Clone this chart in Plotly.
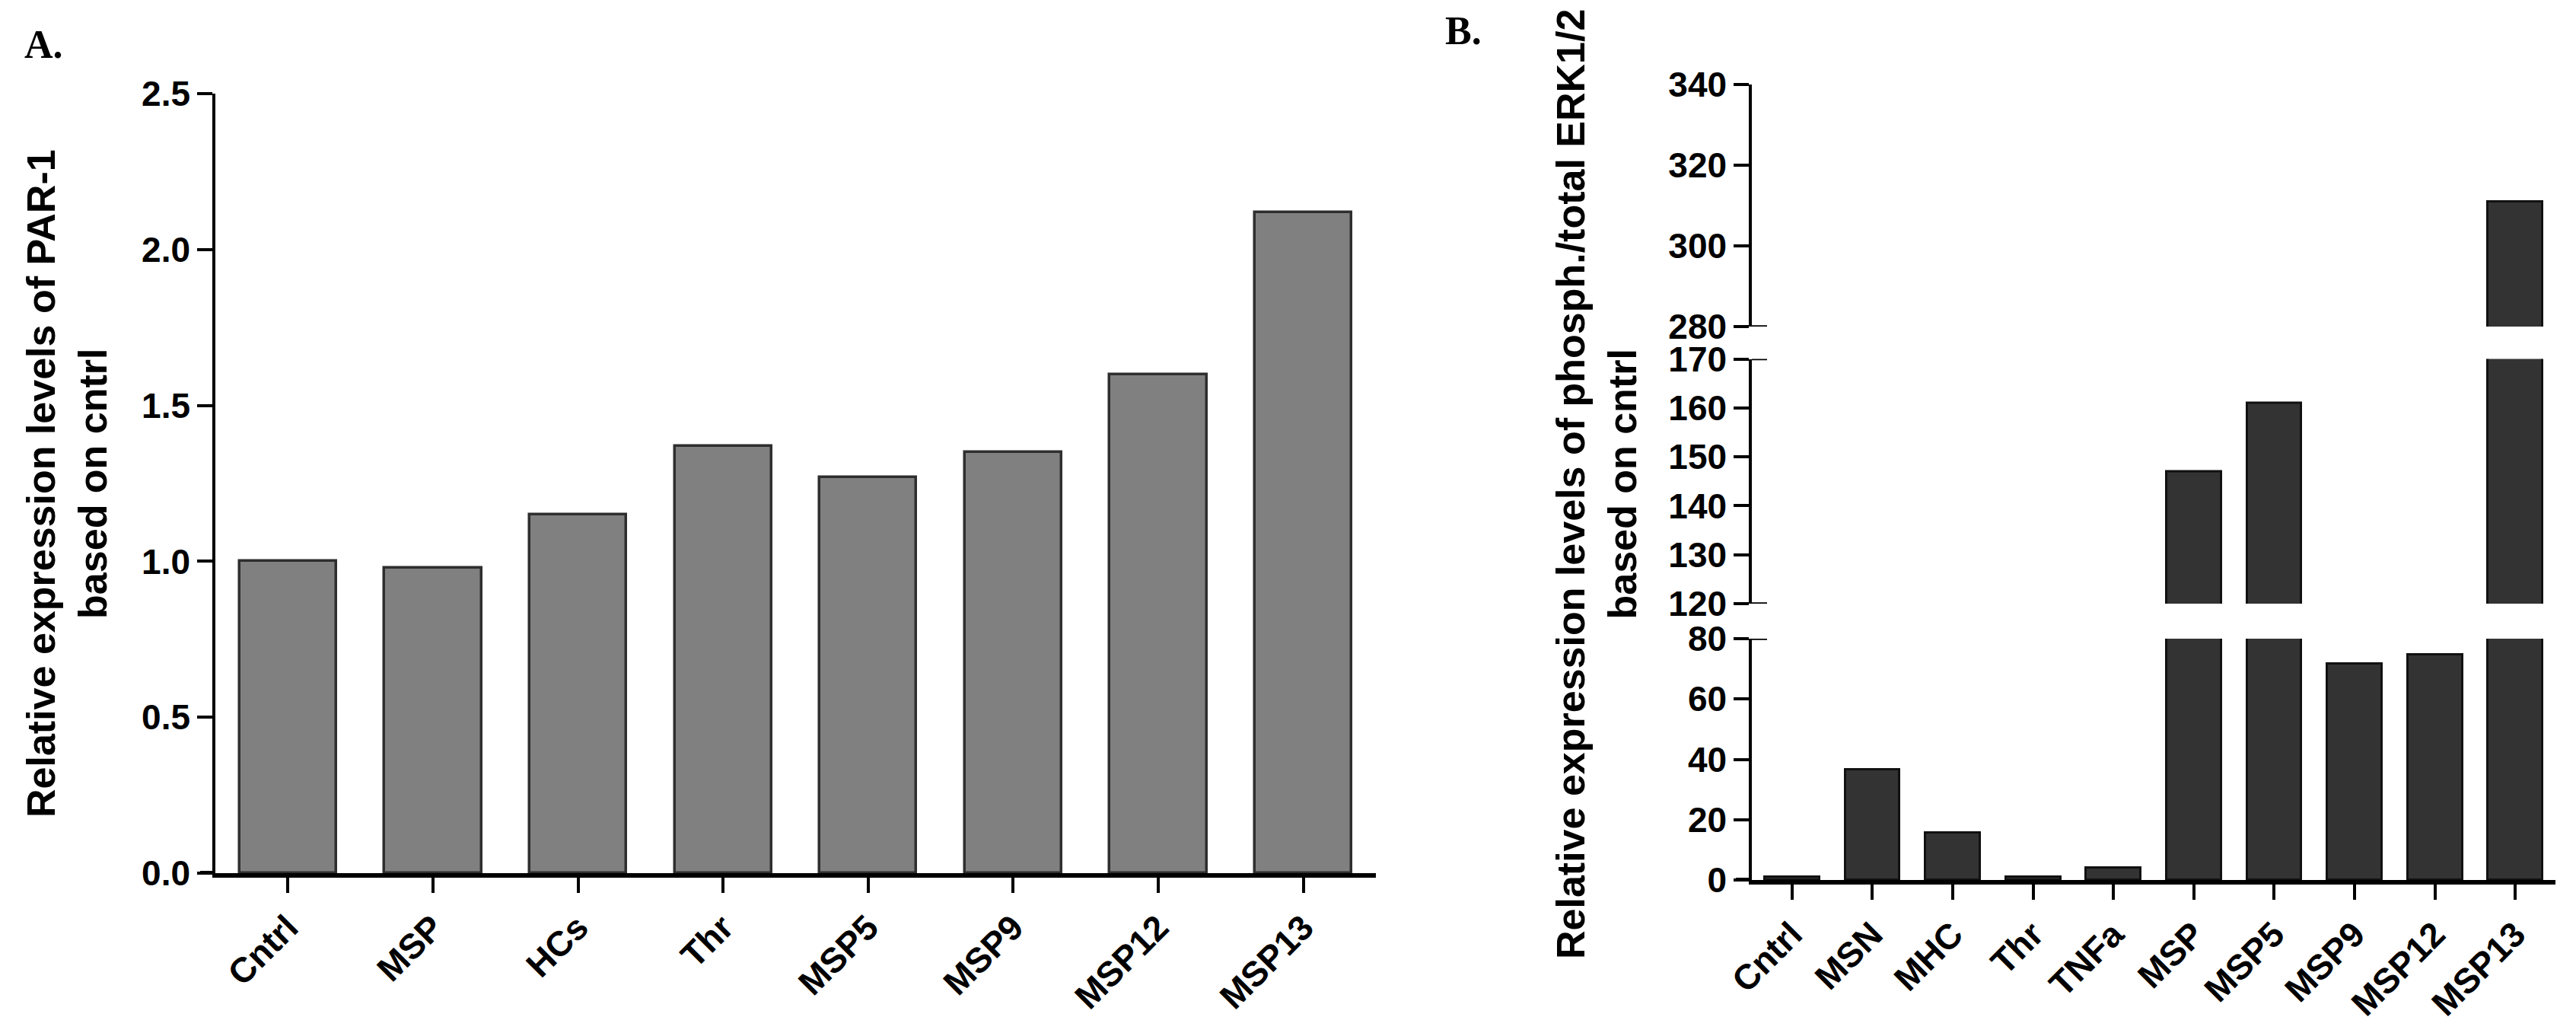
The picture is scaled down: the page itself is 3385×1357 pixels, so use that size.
import plotly.graph_objects as go

# ---------------- data ----------------
cats_a = ["Cntrl", "MSP", "HCs", "Thr", "MSP5", "MSP9", "MSP12", "MSP13"]
vals_a = [1.00, 0.98, 1.15, 1.37, 1.27, 1.35, 1.60, 2.12]

cats_b = ["Cntrl", "MSN", "MHC", "Thr", "TNFa", "MSP", "MSP5", "MSP9", "MSP12", "MSP13"]
vals_b = [1.0, 36.5, 15.6, 1.0, 4.0, 147, 161, 71.7, 74.8, 311]

title_a = "Relative expression levels of PAR-1<br>based on cntrl"
title_b = "Relative expression levels of phosph./total ERK1/2<br>based on cntrl"

# ---------------- layout helpers ----------------
W, H = 3385, 1357
def px(x):
    return x / W
def py(y):
    return 1 - y / H

SANS = "Liberation Sans, Arial, sans-serif"
SERIF = "Liberation Serif, Times New Roman, serif"
tickfont = dict(family=SANS, size=46, color="black", weight="bold")

fig = go.Figure()
fig.add_trace(go.Bar(
    x=cats_a, y=vals_a, xaxis="x", yaxis="y", width=0.667,
    marker=dict(color="#808080", line=dict(color="#2e2e2e", width=3.5)),
))
for ya in ["y2", "y3", "y4"]:
    fig.add_trace(go.Bar(
        x=cats_b, y=vals_b, xaxis="x2", yaxis=ya, width=0.68,
        marker=dict(color="#333333", line=dict(color="#111111", width=3)),
    ))

common_y = dict(showline=True, linecolor="black", linewidth=3.5, ticks="outside",
                ticklen=20, tickwidth=3.5, tickcolor="black", tickfont=tickfont,
                showgrid=False, zeroline=False, automargin=False)
common_x = dict(type="category", showline=True, linecolor="black", linewidth=6,
                ticks="outside", ticklen=20, tickwidth=4, tickcolor="black",
                tickangle=-45, tickfont=tickfont, showgrid=False, zeroline=False,
                automargin=False)

fig.update_layout(
    width=W, height=H,
    margin=dict(l=0, r=0, t=0, b=0),
    paper_bgcolor="white", plot_bgcolor="white",
    showlegend=False, bargap=0,
    xaxis=dict(domain=[px(283), px(1808)], range=[-0.5, 7.5], anchor="y", **common_x),
    yaxis=dict(domain=[py(1147), py(123)], range=[0, 2.5], dtick=0.5, tick0=0,
               tickformat=".1f", anchor="x", **common_y),
    xaxis2=dict(domain=[px(2302), px(3358)], range=[-0.5, 9.5], anchor="y2", **common_x),
    yaxis2=dict(domain=[py(1156), py(839)], range=[0, 80], dtick=20, tick0=0,
                anchor="x2", **common_y),
    yaxis3=dict(domain=[py(793), py(471.5)], range=[120, 170], dtick=10, tick0=120,
                anchor="x2", **common_y),
    yaxis4=dict(domain=[py(429), py(111)], range=[280, 340], dtick=20, tick0=280,
                anchor="x2", **common_y),
)

# break caps on the right side of the broken axis, and axis-line extensions
shapes = []
for yref, val in [("y2", 80), ("y3", 170), ("y3", 120), ("y4", 280)]:
    shapes.append(dict(type="line", xref="paper", yref=yref, x0=px(2302), x1=px(2322),
                       y0=val, y1=val, line=dict(color="black", width=3.5)))
shapes.append(dict(type="line", xref="paper", yref="y", x0=px(263), x1=px(283),
                   y0=0, y1=0, line=dict(color="black", width=6)))
shapes.append(dict(type="line", xref="paper", yref="y2", x0=px(2281), x1=px(2302),
                   y0=0, y1=0, line=dict(color="black", width=6)))
fig.update_layout(shapes=shapes)

annos = [
    dict(text=title_a, x=px(88), y=py(635), xref="paper", yref="paper",
         xanchor="center", yanchor="middle", textangle=-90, showarrow=False,
         font=dict(family=SANS, size=52, color="black", weight="bold")),
    dict(text=title_b, x=px(2098), y=py(636), xref="paper", yref="paper",
         xanchor="center", yanchor="middle", textangle=-90, showarrow=False,
         font=dict(family=SANS, size=52, color="black", weight="bold")),
    dict(text="A.", x=px(30), y=py(58), xref="paper", yref="paper",
         xanchor="left", yanchor="middle", showarrow=False,
         font=dict(family=SERIF, size=52, color="black", weight="bold")),
    dict(text="B.", x=px(1897), y=py(40), xref="paper", yref="paper",
         xanchor="left", yanchor="middle", showarrow=False,
         font=dict(family=SERIF, size=52, color="black", weight="bold")),
]
fig.update_layout(annotations=annos)

fig.write_html("out.html", config={"displayModeBar": False},
               post_script="document.body.style.margin='0';")
